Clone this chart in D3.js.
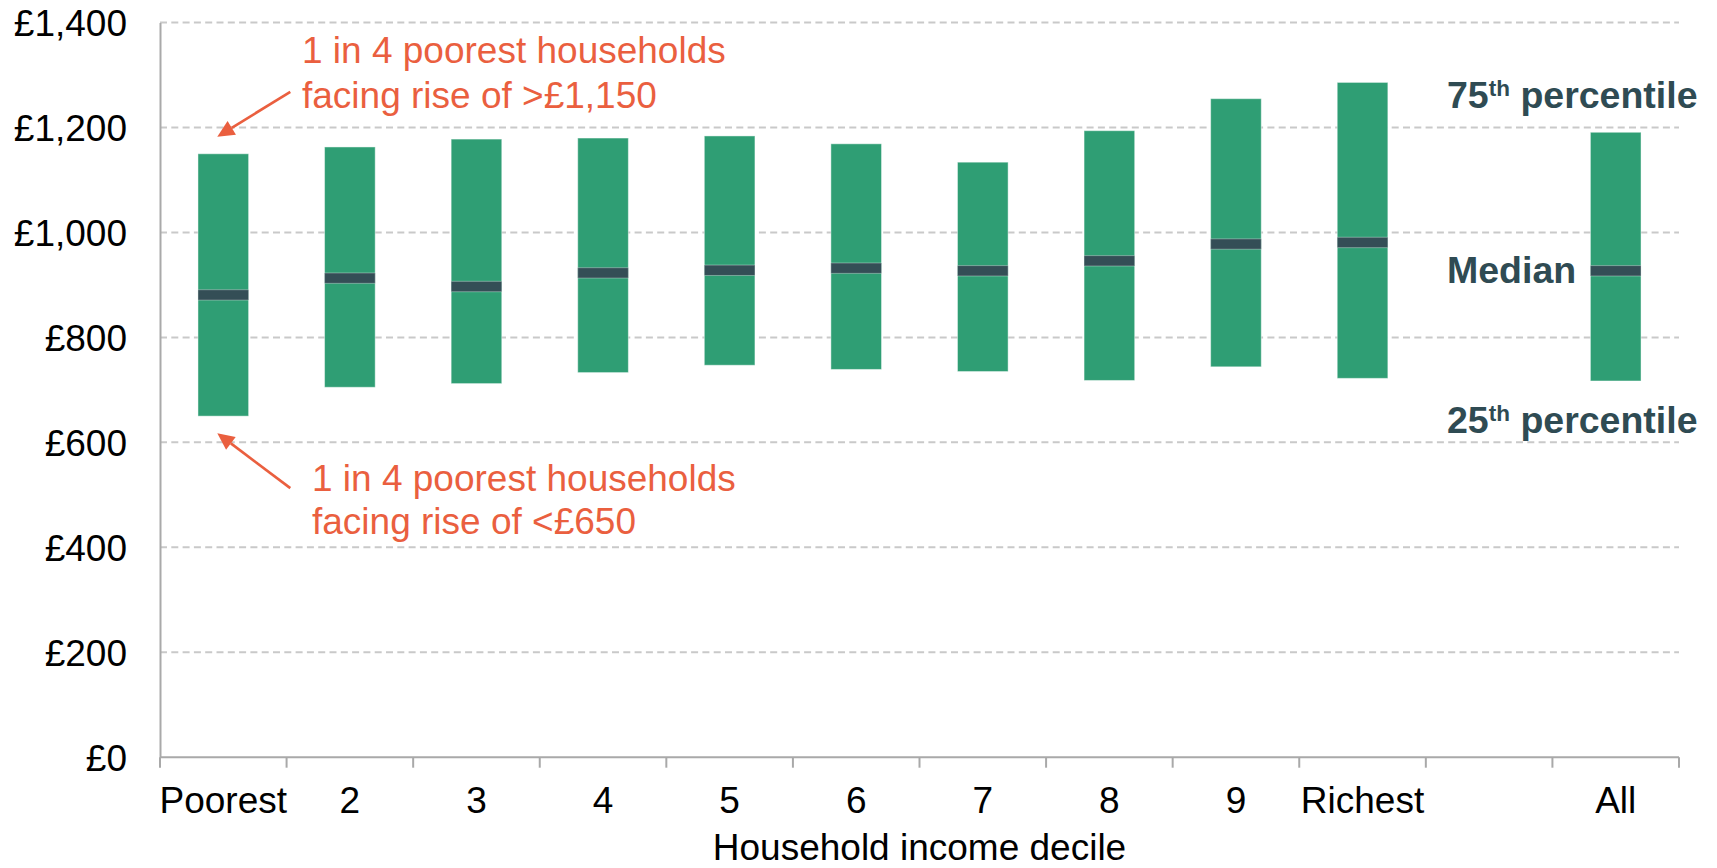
<!DOCTYPE html>
<html>
<head>
<meta charset="utf-8">
<script src="https://cdn.jsdelivr.net/npm/d3@7"></script>
<style>
  html, body { margin: 0; padding: 0; background: #fff; }
  svg { display: block; font-family: "Liberation Sans", Arial, sans-serif; }
</style>
</head>
<body>
<svg id="chart" width="1717" height="868"></svg>
<script>
// Household income deciles, plus a spacer slot before the "All" column
const categories = ["Poorest", "2", "3", "4", "5", "6", "7", "8", "9", "Richest", "gap", "All"];
const groups     = ["Poorest", "2", "3", "4", "5", "6", "7", "8", "9", "Richest", "All"];

// Annual rise in energy bills (£) by percentile within each group
const p25    = [650, 705, 712, 733, 747, 739, 735, 718, 744, 722, 717];
const median = [881, 913, 897, 923, 928, 932, 927, 946, 978, 981, 927];
const p75    = [1150, 1163, 1178, 1180, 1184, 1169, 1134, 1194, 1255, 1286, 1191];

const yTicks = [0, 200, 400, 600, 800, 1000, 1200, 1400];

(function draw() {
  const svg = d3.select("#chart");
  const plotL = 160, plotR = 1679, plotT = 22.6, plotB = 757.2;

  const x = d3.scaleBand().domain(categories).range([plotL, plotR]).padding(0);
  const y = d3.scaleLinear().domain([0, 1400]).range([plotB, plotT]);

  const green = "#2f9e74", dark = "#344e56", orange = "#ea5f3f", slate = "#2f4b53";
  const axisGrey = "#a9a9a9", gridGrey = "#c9c9c9";

  // Dashed horizontal gridlines
  svg.append("g").selectAll("line")
    .data(yTicks.filter(d => d > 0))
    .join("line")
    .attr("x1", plotL).attr("x2", plotR)
    .attr("y1", d => y(d)).attr("y2", d => y(d))
    .attr("stroke", gridGrey).attr("stroke-width", 2)
    .attr("stroke-dasharray", "7,4.3");

  // Y axis: line plus £ labels
  const yAxis = svg.append("g").attr("transform", `translate(${plotL},0)`)
    .call(d3.axisLeft(y).tickValues(yTicks).tickSize(0).tickPadding(33)
      .tickFormat(d => "£" + d3.format(",")(d)));
  yAxis.select(".domain").attr("stroke", axisGrey).attr("stroke-width", 2);
  yAxis.selectAll("text").attr("font-size", 37).attr("fill", "#000")
    .attr("font-family", "Liberation Sans, Arial, sans-serif").attr("dy", "0.36em");

  // X axis: baseline with ticks at band boundaries
  const xAxis = svg.append("g");
  xAxis.append("line")
    .attr("x1", plotL).attr("x2", plotR)
    .attr("y1", y(0)).attr("y2", y(0))
    .attr("stroke", axisGrey).attr("stroke-width", 2);
  xAxis.selectAll("line.tick")
    .data(categories.map(c => x(c)).concat([x(categories[categories.length - 1]) + x.step()]))
    .join("line").attr("class", "tick")
    .attr("x1", d => d).attr("x2", d => d)
    .attr("y1", y(0)).attr("y2", y(0) + 10.5)
    .attr("stroke", axisGrey).attr("stroke-width", 2);
  xAxis.selectAll("text")
    .data(groups)
    .join("text")
    .attr("x", d => x(d) + x.bandwidth() / 2)
    .attr("y", y(0) + 56)
    .attr("text-anchor", "middle")
    .attr("font-size", 37).attr("fill", "#000")
    .text(d => d);

  svg.append("text")
    .attr("x", (plotL + plotR) / 2).attr("y", 860)
    .attr("text-anchor", "middle").attr("font-size", 37).attr("fill", "#000")
    .text("Household income decile");

  // Interquartile bars with a median marker
  const rows = groups.map((g, i) => ({ g, lo: p25[i], mid: median[i], hi: p75[i] }));
  const barW = x.bandwidth() * 0.4;
  const bars = svg.append("g");
  bars.selectAll("rect.iqr")
    .data(rows).join("rect").attr("class", "iqr")
    .attr("x", d => x(d.g) + (x.bandwidth() - barW) / 2)
    .attr("width", barW)
    .attr("y", d => y(d.hi))
    .attr("height", d => y(d.lo) - y(d.hi))
    .attr("fill", green)
    .attr("stroke", "rgba(255,255,255,0.45)").attr("stroke-width", 1);
  bars.selectAll("rect.med")
    .data(rows).join("rect").attr("class", "med")
    .attr("x", d => x(d.g) + (x.bandwidth() - barW) / 2)
    .attr("width", barW)
    .attr("y", d => y(d.mid) - 5.2)
    .attr("height", 10.4)
    .attr("fill", dark)
    .attr("stroke", "rgba(255,255,255,0.35)").attr("stroke-width", 1);

  // Callout arrows and text for the poorest decile
  function arrow(x1, y1, x2, y2) {
    const ang = Math.atan2(y2 - y1, x2 - x1);
    const len = 17, half = 8;
    const bx = x2 - len * Math.cos(ang), by = y2 - len * Math.sin(ang);
    svg.append("line")
      .attr("x1", x1).attr("y1", y1).attr("x2", bx).attr("y2", by)
      .attr("stroke", orange).attr("stroke-width", 2.6);
    const px = -Math.sin(ang) * half, py = Math.cos(ang) * half;
    svg.append("path")
      .attr("d", `M${x2},${y2}L${bx + px},${by + py}L${bx - px},${by - py}Z`)
      .attr("fill", orange);
  }
  const cx0 = x("Poorest") + x.bandwidth() / 2;
  arrow(cx0 + 67, y(p75[0]) - 62, cx0 - 6, y(p75[0]) - 17);
  arrow(cx0 + 67, y(p25[0]) + 72, cx0 - 6, y(p25[0]) + 17);

  function callout(tx, baseline, gap, lines) {
    const t = svg.append("text").attr("font-size", 37).attr("fill", orange);
    lines.forEach((l, i) => {
      t.append("tspan").attr("x", tx).attr("y", baseline + i * gap).text(l);
    });
  }
  callout(302, 63, 44.5, ["1 in 4 poorest households", "facing rise of >£1,150"]);
  callout(312, 491, 43, ["1 in 4 poorest households", "facing rise of <£650"]);

  // Percentile key on the right
  function key(baseline, main, sup, rest) {
    const t = svg.append("text").attr("x", 1447).attr("y", baseline)
      .attr("font-size", 37.5).attr("font-weight", "bold").attr("fill", slate);
    t.append("tspan").text(main);
    if (sup) {
      t.append("tspan").attr("font-size", 22.5).attr("dy", -12).text(sup);
      t.append("tspan").attr("dy", 12).text(rest);
    }
  }
  key(108, "75", "th", " percentile");
  key(283, "Median");
  key(433, "25", "th", " percentile");
})();
</script>
</body>
</html>
